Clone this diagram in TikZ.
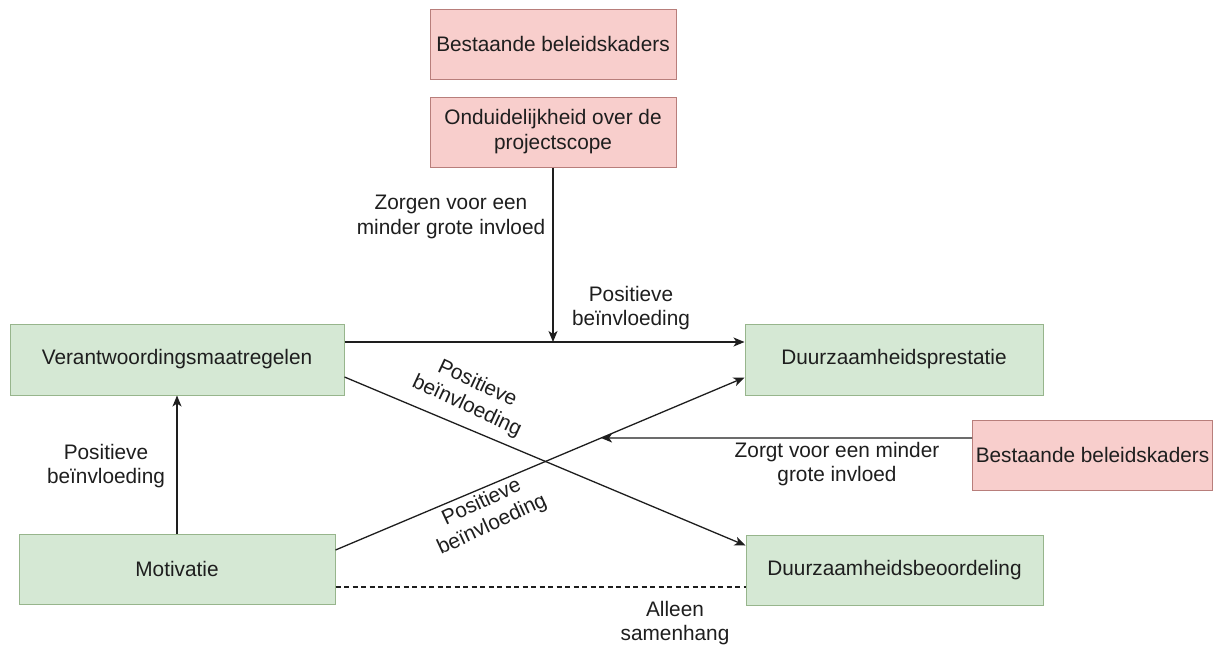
\documentclass[tikz,border=0pt]{standalone}
\usepackage{fontspec}
\setmainfont{Liberation Sans}[FakeStretch=0.99]
\usetikzlibrary{arrows.meta,intersections}
\definecolor{gfill}{HTML}{D5E8D4}
\definecolor{gdraw}{HTML}{97B58C}
\definecolor{pfill}{HTML}{F8CECC}
\definecolor{pdraw}{HTML}{B87E7B}
\definecolor{ink}{HTML}{1E1E1E}
\tikzset{
  box/.style={draw, line width=1pt, inner sep=0pt, align=center, text=ink,
    font=\fontsize{21}{25}\selectfont},
  gbox/.style={box, fill=gfill, draw=gdraw},
  pbox/.style={box, fill=pfill, draw=pdraw},
  conn/.style={draw=ink, line width=1.3pt},
  arr/.style={conn, -{Stealth[length=11pt,width=9pt,inset=3pt]}},
  lbl/.style={text=ink, align=center, font=\fontsize{21}{24.5}\selectfont, inner sep=0pt}
}
\begin{document}
\begin{tikzpicture}[x=1pt,y=-1pt]
\useasboundingbox (0,0) rectangle (1217,646);
\fill[white] (0,0) rectangle (1217,646);

% boxes
\node[pbox, minimum width=246pt, minimum height=70pt] (top1) at (553,44) {Bestaande beleidskaders};
\node[pbox, minimum width=246pt, minimum height=70pt] (top2) at (553,132) {Onduidelijkheid over de\\projectscope};
\node[gbox, minimum width=334pt, minimum height=71pt] (verant) at (177,359.5) {Verantwoordingsmaatregelen};
\node[gbox, minimum width=316pt, minimum height=70pt] (motiv) at (177,569) {Motivatie};
\node[gbox, minimum width=298pt, minimum height=71pt] (prest) at (894,359.5) {Duurzaamheidsprestatie};
\node[gbox, minimum width=297pt, minimum height=70pt] (beoord) at (894.5,570) {Duurzaamheidsbeoordeling};
\node[pbox, minimum width=240pt, minimum height=70pt] (bestR) at (1092.5,455) {Bestaande beleidskaders};

% connectors
\coordinate (hs) at ([yshift=17.5pt]verant.east);
\coordinate (he) at (prest.west |- hs);
\draw[arr] (hs) -- (he);
\coordinate (hm) at (top2.south |- hs);
\draw[arr] (top2.south) -- (hm);

\draw[arr] ([yshift=-17.5pt]verant.east) -- ([yshift=-11pt]beoord.north west);
\draw[arr, name path=d2] ([yshift=19pt]motiv.east) -- ([yshift=-18pt]prest.west);
\path[name path=hr] ([yshift=17pt]bestR.west) -- ++(-600,0);
\path[name intersections={of=d2 and hr, by=pr}];
\draw[arr] ([yshift=17pt]bestR.west) -- (pr);

\draw[arr] (motiv.north) -- (verant.south);
\coordinate (ds) at ([yshift=-18pt]motiv.east);
\draw[conn, line width=1.1pt, dash pattern=on 5pt off 3.5pt] (ds) -- (beoord.west |- ds);

% labels
\node[lbl] (l1) at (451,217) {Zorgen voor een\\minder grote invloed};
\node[lbl] (l2) at (631,308) {Positieve\\beïnvloeding};
\node[lbl] (l3) at (106,466) {Positieve\\beïnvloeding};
\node[lbl, rotate=-25] (l4) at (472,395) {Positieve\\beïnvloeding};
\node[lbl, rotate=25] (l5) at (487,514) {Positieve\\beïnvloeding};
\node[lbl] (l6) at (837,464) {Zorgt voor een minder\\grote invloed};
\node[lbl] (l7) at (675,623) {Alleen\\samenhang};
\end{tikzpicture}
\end{document}
